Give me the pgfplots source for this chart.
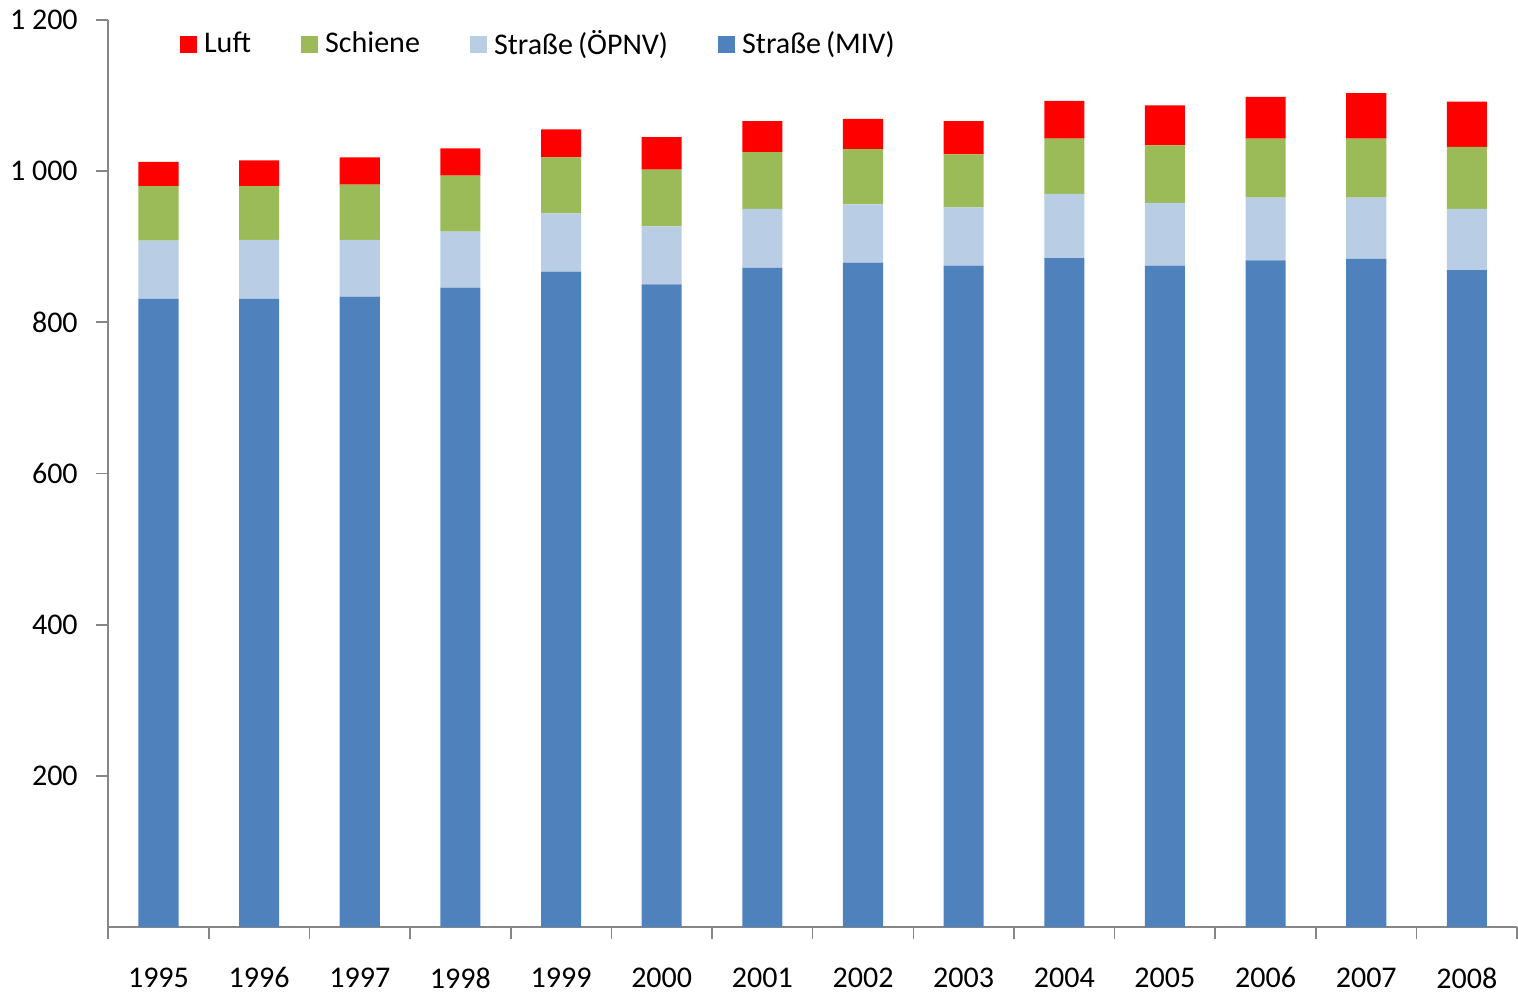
\documentclass[border=0pt]{standalone}
\usepackage{pgfplots}
\pgfplotsset{compat=1.18}
\usepackage{fontspec}
\setmainfont{Carlito}
\definecolor{miv}{HTML}{4F81BD}
\definecolor{oepnv}{HTML}{B9CDE5}
\definecolor{schiene}{HTML}{9BBB59}
\definecolor{luft}{HTML}{FF0000}
\definecolor{axisgray}{HTML}{868686}
\begin{document}
\fontsize{15pt}{18pt}\selectfont
\begin{tikzpicture}
\begin{axis}[
  scale only axis,
  width=703.5pt, height=453pt,
  ybar stacked, bar width=20pt,
  xmin=-0.5, xmax=13.5, ymin=0, ymax=1200,
  xtick={-0.5,0.5,...,13.5},
  x tick label as interval,
  xticklabels={1995,1996,1997,1998,1999,2000,2001,2002,2003,2004,2005,2006,2007,2008},
  ytick={200,400,...,1200},
  axis x line*=bottom, axis y line*=left,
  axis line style={axisgray, line width=0.8pt},
  tick style={axisgray, line width=0.8pt},
  tick align=outside, major tick length=6pt,
  xticklabel style={yshift=-9pt},
  yticklabel style={xshift=-4pt},
  ticklabel style={font=\fontsize{15pt}{18pt}\selectfont},
  /pgf/number format/assume math mode=true,
  /pgf/number format/1000 sep={\ },
  legend style={draw=none, fill=none, at={(0.0465,0.998)}, anchor=north west,
    legend columns=4, font=\fontsize{15pt}{18pt}\selectfont,
    /tikz/every even column/.append style={column sep=23pt}},
  legend image code/.code={\fill[#1,draw=none] (0pt,-4.1pt) rectangle (8.3pt,4.1pt);\path[draw=none,fill=none] (0pt,0pt) -- (10pt,0pt);},
]
\addlegendimage{fill=luft,draw=none}\addlegendentry{Luft}
\addlegendimage{fill=schiene,draw=none}\addlegendentry{Schiene}
\addlegendimage{fill=oepnv,draw=none}\addlegendentry{Straße\,(ÖPNV)}
\addlegendimage{fill=miv,draw=none}\addlegendentry{Straße\,(MIV)}
\addplot[fill=miv, draw=none, forget plot] coordinates {
(0,831) (1,831) (2,834) (3,846) (4,867) (5,850) (6,872) (7,879) (8,875) (9,885) (10,875) (11,882) (12,884) (13,869)};
\addplot[fill=oepnv, draw=none, forget plot] coordinates {
(0,77) (1,78) (2,75) (3,74) (4,77) (5,77) (6,78) (7,77) (8,77) (9,85) (10,83) (11,83) (12,81) (13,81)};
\addplot[fill=schiene, draw=none, forget plot] coordinates {
(0,72) (1,71) (2,73) (3,74) (4,74) (5,75) (6,75) (7,73) (8,70) (9,73) (10,76) (11,78) (12,78) (13,82)};
\addplot[fill=luft, draw=none, forget plot] coordinates {
(0,32) (1,34) (2,36) (3,36) (4,37) (5,43) (6,41) (7,40) (8,44) (9,50) (10,53) (11,55) (12,60) (13,60)};
\end{axis}
\end{tikzpicture}
\end{document}
